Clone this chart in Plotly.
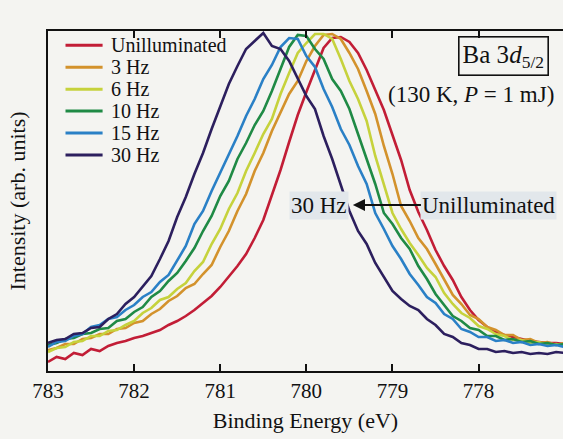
import plotly.graph_objects as go

# Binding energy grid (eV), 0.1 eV sampling from 783.0 down to 777.0
energy = [round(783.0 - 0.1 * i, 1) for i in range(61)]

series_names = ["Unilluminated", "3 Hz", "6 Hz", "10 Hz", "15 Hz", "30 Hz"]

unilluminated = [9, 14, 12, 18, 16, 22, 20, 25, 28, 30, 33, 35, 38, 41, 46, 50, 55, 61, 68, 75,
                 84, 94, 105, 117, 133, 151, 175, 201, 229, 256, 279, 301, 323, 333, 334, 329, 318, 301, 281, 261,
                 236, 211, 181, 159, 141, 121, 105, 91, 74, 61, 51, 44, 39, 36, 34, 32, 30, 29, 28, 28, 27]
hz3 = [21, 23, 27, 27, 32, 33, 37, 37, 42, 43, 48, 50, 57, 62, 70, 75, 83, 87, 97, 106,
       124, 140, 160, 177, 200, 218, 240, 258, 277, 290, 310, 325, 336, 337, 332, 318, 302, 280, 257, 225,
       197, 165, 150, 133, 122, 107, 92, 76, 67, 56, 52, 44, 41, 36, 36, 31, 32, 28, 29, 26, 28]
hz6 = [19, 23, 24, 29, 30, 35, 35, 40, 41, 46, 50, 58, 63, 71, 74, 82, 88, 100, 109, 127,
       142, 162, 178, 200, 218, 237, 252, 277, 298, 318, 328, 337, 337, 332, 312, 290, 272, 250, 215, 187,
       158, 142, 128, 116, 103, 94, 78, 67, 58, 53, 45, 42, 37, 35, 31, 31, 28, 29, 26, 27, 25]
hz10 = [26, 28, 32, 33, 37, 38, 42, 43, 50, 52, 59, 64, 74, 80, 90, 98, 110, 123, 140, 155,
        175, 190, 212, 228, 246, 260, 280, 302, 324, 336, 335, 322, 312, 292, 280, 262, 237, 210, 187, 158,
        147, 133, 122, 105, 92, 77, 66, 55, 50, 43, 41, 35, 35, 31, 32, 29, 30, 27, 28, 26, 27]
hz15 = [24, 29, 30, 35, 37, 44, 46, 52, 54, 61, 66, 74, 79, 89, 96, 111, 125, 147, 160, 180,
        198, 217, 235, 255, 272, 292, 306, 324, 333, 332, 315, 304, 282, 264, 242, 226, 205, 187, 158, 142,
        125, 112, 97, 86, 74, 68, 57, 52, 42, 39, 34, 34, 30, 31, 28, 29, 26, 27, 25, 26, 24]
hz30 = [28, 31, 32, 37, 38, 43, 44, 52, 57, 67, 74, 85, 95, 112, 130, 154, 174, 197, 218, 242,
        265, 287, 305, 322, 330, 338, 325, 322, 310, 292, 275, 262, 235, 212, 185, 160, 140, 127, 108, 94,
        80, 72, 65, 61, 52, 46, 37, 34, 28, 26, 22, 22, 19, 20, 18, 19, 17, 18, 17, 19, 18]

series_values = [unilluminated, hz3, hz6, hz10, hz15, hz30]
colors = ["#c21d36", "#d3922c", "#c6d23c", "#1f8a45", "#2a80c6", "#2c1f5e"]

serif = "Liberation Serif, Times New Roman, serif"

fig = go.Figure()
for name, vals, col in zip(series_names, series_values, colors):
    fig.add_trace(go.Scatter(x=energy, y=vals, mode="lines", name=name,
                             line=dict(color=col, width=2.6), showlegend=False))

# Manual legend (tight row spacing like the original)
shapes = []
annotations = []
row_top = 0.958
row_gap = 0.0645
for i, (name, col) in enumerate(zip(series_names, colors)):
    yy = row_top - i * row_gap
    shapes.append(dict(type="line", xref="paper", yref="paper", x0=0.034, x1=0.106,
                       y0=yy, y1=yy, line=dict(color=col, width=3)))
    annotations.append(dict(xref="paper", yref="paper", x=0.119, y=yy, text=name,
                            showarrow=False, xanchor="left", yanchor="middle",
                            font=dict(family=serif, size=20, color="#111")))

# Boxed label
annotations.append(dict(xref="paper", yref="paper", x=0.885, y=0.926,
                        text="Ba 3<i>d</i><sub>5/2</sub>", showarrow=False,
                        xanchor="center", yanchor="middle",
                        font=dict(family=serif, size=25, color="#111"),
                        bordercolor="#111", borderwidth=1.6, borderpad=3))
annotations.append(dict(xref="paper", yref="paper", x=0.822, y=0.812,
                        text="(130 K, <i>P</i> = 1 mJ)", showarrow=False,
                        xanchor="center", yanchor="middle",
                        font=dict(family=serif, size=23, color="#111")))

# Shift arrow: label sits at the tail, arrow points to the 30 Hz curve
annotations.append(dict(x=779.46, y=166, ax=777.88, ay=166, xref="x", yref="y",
                        axref="x", ayref="y", text="Unilluminated", showarrow=True,
                        arrowhead=2, arrowsize=1.1, arrowwidth=2.2, arrowcolor="#111",
                        standoff=0, startstandoff=0,
                        font=dict(family=serif, size=23, color="#111"),
                        bgcolor="#e2e7eb"))
annotations.append(dict(x=779.50, y=166, xref="x", yref="y", text="30 Hz",
                        showarrow=False, xanchor="right", yanchor="middle",
                        font=dict(family=serif, size=23, color="#111"),
                        bgcolor="#e2e7eb"))

fig.update_layout(
    width=563, height=439,
    margin=dict(l=48, r=0, t=31, b=68),
    paper_bgcolor="#f4f4f1", plot_bgcolor="#f4f4f1",
    font=dict(family=serif, color="#111"),
    shapes=shapes, annotations=annotations,
    xaxis=dict(range=[783.0, 777.02], tickmode="linear", tick0=778, dtick=1,
               ticks="inside", ticklen=7, tickwidth=2, tickcolor="#111",
               showline=True, linewidth=2, linecolor="#111", mirror="ticks",
               showgrid=False, zeroline=False,
               tickfont=dict(family=serif, size=21, color="#111"),
               title=dict(text="Binding Energy (eV)", font=dict(family=serif, size=22),
                          standoff=10)),
    yaxis=dict(range=[0, 340], showticklabels=False, ticks="",
               showline=True, linewidth=2, linecolor="#111", mirror=False,
               showgrid=False, zeroline=False,
               title=dict(text="Intensity (arb. units)", font=dict(family=serif, size=22),
                          standoff=14)),
)

fig.write_html("out.html", config={"displayModeBar": False},
               post_script="document.body.style.margin='0';document.body.style.overflow='hidden';")
